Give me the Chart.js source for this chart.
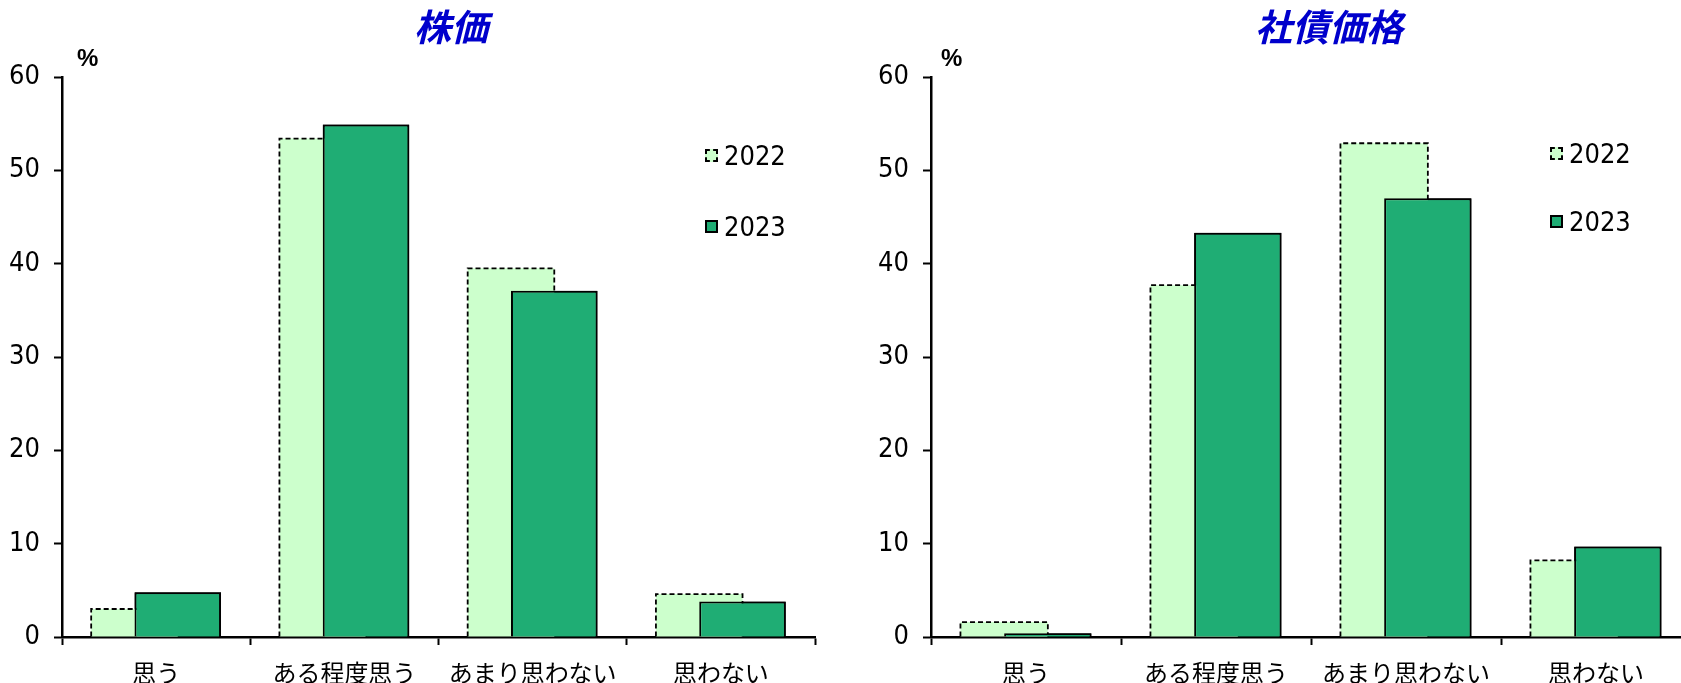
<!DOCTYPE html>
<html lang="ja">
<head>
<meta charset="utf-8">
<script src="https://cdn.jsdelivr.net/npm/chart.js@4.4.1/dist/chart.umd.min.js"></script>
<style>
  html, body { margin: 0; padding: 0; background: #fff; overflow: hidden; }
  #page { position: relative; width: 1681px; height: 683px; overflow: hidden; }
  .panel { position: absolute; top: 0; }
  .title {
    position: absolute; top: 5px; transform: translateX(-50%);
    font-family: 'Noto Sans CJK JP', sans-serif; font-size: 37px; font-style: italic; font-weight: 700;
    color: #0000cc; line-height: 40px; white-space: nowrap;
  }
  .unit {
    position: absolute; top: 45px;
    font-family: 'Liberation Sans', sans-serif; font-size: 24px; font-weight: 700; line-height: 26px;
  }
  .key {
    position: absolute; display: flex; align-items: center;
    font-family: 'Liberation Sans Narrow', 'DejaVu Sans Condensed', sans-serif;
    font-size: 27px; line-height: 29px; color: #000;
  }
  .swatch { width: 13px; height: 13px; box-sizing: border-box; margin-right: 6px; }
  .s2022 { background: #ccffcc; border: 2px dashed #000; }
  .s2023 { background: #1fad74; border: 2px solid #000; }
</style>
</head>
<body>
<div id="page">
  <div class="panel" style="left:0;"><canvas id="stock" width="830" height="683"></canvas></div>
  <div class="panel" style="left:840px;"><canvas id="bond" width="860" height="683"></canvas></div>

  <div class="title" style="left:451px;">株価</div>
  <div class="title" style="left:1329px;">社債価格</div>
  <div class="unit" style="left:77px;">%</div>
  <div class="unit" style="left:941px;">%</div>

  <div class="key" style="left:705px; top:141px;"><span class="swatch s2022"></span>2022</div>
  <div class="key" style="left:705px; top:212px;"><span class="swatch s2023"></span>2023</div>
  <div class="key" style="left:1550px; top:139px;"><span class="swatch s2022"></span>2022</div>
  <div class="key" style="left:1550px; top:207px;"><span class="swatch s2023"></span>2023</div>
</div>
<script>
const categories = ['思う', 'ある程度思う', 'あまり思わない', '思わない'];
const years = ['2022', '2023'];

// 株価
const stock2022 = [3.0, 53.4, 39.5, 4.6];
const stock2023 = [4.8, 54.9, 37.1, 3.8];
// 社債価格
const bond2022 = [1.6, 37.7, 52.9, 8.2];
const bond2023 = [0.4, 43.3, 47.0, 9.7];

const yMin = 0;
const yMax = 60;
const yStep = 10;

const light = '#ccffcc';
const dark = '#1fad74';
const narrowFont = "'Liberation Sans Narrow', 'DejaVu Sans Condensed', sans-serif";

// 2022 bars get a dashed outline, then the 2023 bars are drawn again on top
const overlapBars = {
  id: 'overlapBars',
  afterDatasetDraw(chart, args) {
    if (args.index !== 0) return;
    const ctx = chart.ctx;
    ctx.save();
    ctx.setLineDash([5, 3]);
    ctx.lineWidth = 1.8;
    ctx.strokeStyle = '#000';
    args.meta.data.forEach(bar => {
      const { x, y, base, width } = bar.getProps(['x', 'y', 'base', 'width'], true);
      const l = x - width / 2;
      const r = x + width / 2;
      ctx.beginPath();
      ctx.moveTo(l, base);
      ctx.lineTo(l, y);
      ctx.lineTo(r, y);
      ctx.lineTo(r, base);
      ctx.stroke();
    });
    ctx.restore();
  },
  afterDatasetsDraw(chart) {
    chart.getDatasetMeta(1).data.forEach(bar => bar.draw(chart.ctx));
  }
};

function makeChart(id, v2022, v2023, axisWidth, padRight) {
  return new Chart(document.getElementById(id), {
    type: 'bar',
    data: {
      labels: categories,
      datasets: [
        {
          label: years[0], data: v2022,
          backgroundColor: light, borderWidth: 0,
          categoryPercentage: 0.46, barPercentage: 2
        },
        {
          label: years[1], data: v2023,
          backgroundColor: dark, borderColor: '#000', borderWidth: 2,
          categoryPercentage: 0.46, barPercentage: 2
        }
      ]
    },
    options: {
      responsive: false,
      animation: false,
      devicePixelRatio: 1,
      layout: { padding: { top: 77, right: padRight, bottom: 0, left: 0 } },
      plugins: { legend: { display: false }, tooltip: { enabled: false } },
      scales: {
        x: {
          z: 1,
          afterFit(scale) { scale.height = 46; },
          grid: {
            offset: true, drawOnChartArea: false, drawTicks: true,
            tickLength: 8, tickWidth: 2, tickColor: '#000', color: '#000'
          },
          border: { display: true, color: '#000', width: 2.5 },
          ticks: {
            color: '#000', padding: 13,
            font: { family: "'Noto Sans CJK JP', sans-serif", size: 24 }
          }
        },
        y: {
          z: 1,
          min: yMin, max: yMax,
          afterFit(scale) { scale.width = axisWidth; },
          grid: {
            drawOnChartArea: false, drawTicks: true,
            tickLength: 8, tickWidth: 2, tickColor: '#000', color: '#000'
          },
          border: { display: true, color: '#000', width: 2.5 },
          ticks: {
            stepSize: yStep, color: '#000', padding: 14,
            font: { family: narrowFont, size: 27 }
          }
        }
      }
    },
    plugins: [overlapBars]
  });
}

makeChart('stock', stock2022, stock2023, 62, 15);
makeChart('bond', bond2022, bond2023, 91, 9);
</script>
</body>
</html>
